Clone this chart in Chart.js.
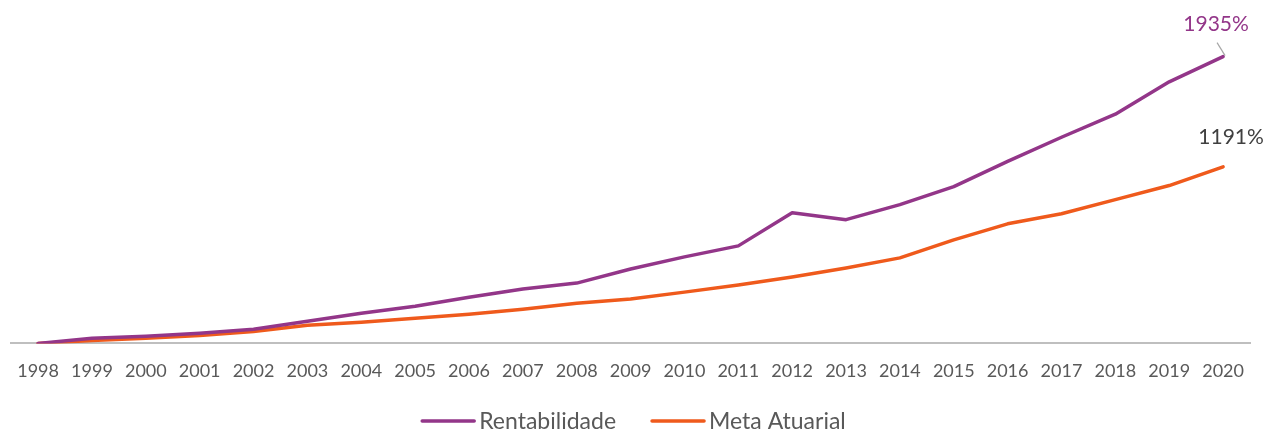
<!DOCTYPE html>
<html>
<head>
<meta charset="utf-8">
<script src="https://cdn.jsdelivr.net/npm/chart.js@4"></script>
<style>
  html, body { margin: 0; padding: 0; background: #ffffff; }
  #wrap { width: 1265px; height: 431px; position: relative; }
</style>
</head>
<body>
<div id="wrap"><canvas id="c" width="1265" height="431"></canvas></div>
<script>
const years = ['1998','1999','2000','2001','2002','2003','2004','2005','2006','2007','2008','2009','2010','2011','2012','2013','2014','2015','2016','2017','2018','2019','2020'];
const rentabilidade = [0, 34, 48, 68, 95, 150, 204, 251, 312, 367, 407, 502, 584, 658, 882, 835, 936, 1058, 1228, 1391, 1547, 1765, 1935];
const metaAtuarial = [0, 20, 34, 54, 81, 122, 143, 170, 197, 231, 271, 299, 346, 394, 448, 509, 577, 699, 807, 875, 970, 1065, 1191];
const seriesNames = ['Rentabilidade', 'Meta Atuarial'];
const endLabels = ['1935%', '1191%'];

const PURPLE = '#933689';
const ORANGE = '#ef5a1c';
const FONT = 'Lato, "Open Sans", sans-serif';

const endLabelPlugin = {
  id: 'endLabels',
  afterDatasetsDraw(chart) {
    const ctx = chart.ctx;
    ctx.save();
    ctx.font = '21px ' + FONT;
    ctx.textAlign = 'center';
    ctx.textBaseline = 'middle';
    const m0 = chart.getDatasetMeta(0);
    const p0 = m0.data[m0.data.length - 1];
    ctx.strokeStyle = '#a6a6a6';
    ctx.lineWidth = 1.2;
    ctx.beginPath();
    ctx.moveTo(p0.x - 6, p0.y - 14);
    ctx.lineTo(p0.x + 2, p0.y - 1);
    ctx.stroke();
    ctx.fillStyle = PURPLE;
    ctx.fillText(endLabels[0], p0.x - 7, p0.y - 32);
    const m1 = chart.getDatasetMeta(1);
    const p1 = m1.data[m1.data.length - 1];
    ctx.fillStyle = '#404040';
    ctx.fillText(endLabels[1], p1.x + 8, p1.y - 30);
    ctx.restore();
  }
};

// Custom bottom legend (line sample + label), drawn from dataset definitions
const legendPlugin = {
  id: 'bottomLegend',
  afterDraw(chart) {
    const ctx = chart.ctx;
    ctx.save();
    ctx.font = '23px ' + FONT;
    ctx.textBaseline = 'middle';
    ctx.textAlign = 'left';
    const lineW = 54, gapText = 4, gapItems = 35, y = 421;
    const items = chart.data.datasets.map(ds => ({ label: ds.label, color: ds.borderColor, tw: ctx.measureText(ds.label).width }));
    const total = items.reduce((s, it) => s + lineW + gapText + it.tw, 0) + gapItems * (items.length - 1);
    let x = (chart.width - total) / 2 + 1;
    items.forEach(it => {
      ctx.strokeStyle = it.color;
      ctx.lineWidth = 3.5;
      ctx.lineCap = 'round';
      ctx.beginPath();
      ctx.moveTo(x + 1, y);
      ctx.lineTo(x + lineW - 1, y);
      ctx.stroke();
      ctx.fillStyle = '#595959';
      ctx.fillText(it.label, x + lineW + gapText, y + 1);
      x += lineW + gapText + it.tw + gapItems;
    });
    ctx.restore();
  }
};

new Chart(document.getElementById('c'), {
  type: 'line',
  data: {
    labels: years,
    datasets: [
      { label: seriesNames[0], data: rentabilidade, borderColor: PURPLE, backgroundColor: PURPLE,
        borderWidth: 3.5, pointRadius: 0, tension: 0, borderCapStyle: 'round', borderJoinStyle: 'round' },
      { label: seriesNames[1], data: metaAtuarial, borderColor: ORANGE, backgroundColor: ORANGE,
        borderWidth: 3.5, pointRadius: 0, tension: 0, borderCapStyle: 'round', borderJoinStyle: 'round' }
    ]
  },
  options: {
    responsive: false,
    animation: false,
    devicePixelRatio: 1,
    layout: { padding: { left: 10, right: 15, top: 47, bottom: 32 } },
    plugins: {
      legend: { display: false },
      tooltip: { enabled: false }
    },
    scales: {
      x: {
        offset: true,
        grid: { display: false, drawTicks: false },
        border: { display: true, color: '#bfbfbf', width: 2 },
        ticks: { color: '#595959', font: { family: FONT, size: 18 }, padding: 17, maxRotation: 0, autoSkip: false }
      },
      y: {
        display: false,
        min: 0, max: 2000
      }
    }
  },
  plugins: [endLabelPlugin, legendPlugin]
});
</script>
</body>
</html>
